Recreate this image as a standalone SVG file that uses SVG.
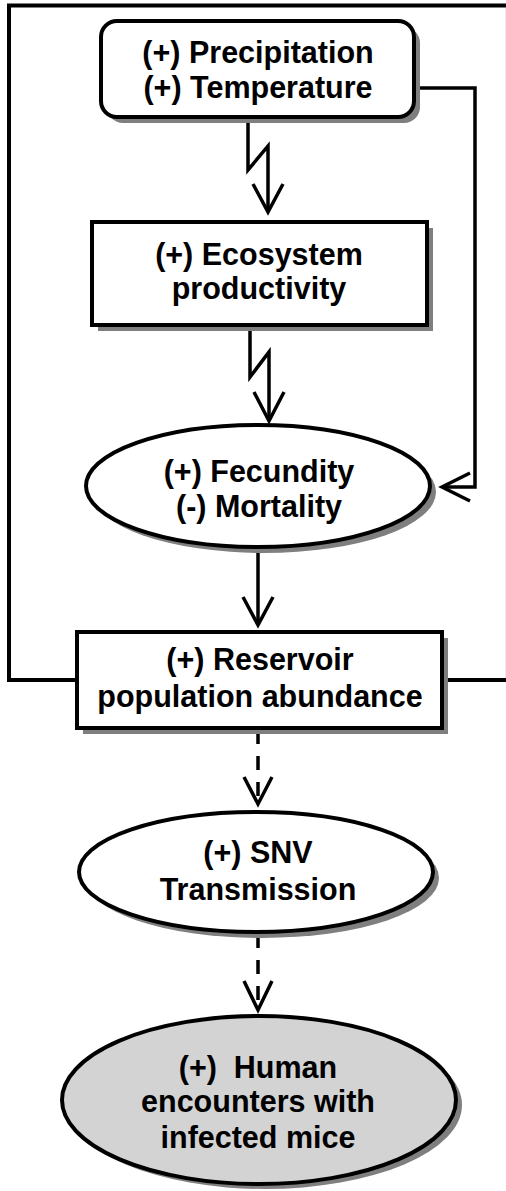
<svg xmlns="http://www.w3.org/2000/svg" width="506" height="1191" viewBox="0 0 506 1191">
<style>
.txt{font-family:"Liberation Sans",Arial,sans-serif;font-weight:bold;font-size:30.5px;fill:#000;text-anchor:middle}
.node{fill:#fff;stroke:#000;stroke-width:4}
.shadow{fill:#7f7f7f;stroke:none}
.ln{fill:none;stroke:#000;stroke-width:3.5;stroke-linejoin:miter}
.dash{stroke-dasharray:14 12}
</style>
<rect x="0" y="0" width="506" height="1191" fill="#fff"/>
<g id="frame">
<path d="M77,680 H9 V5.5 H506 M442,680 H506" fill="none" stroke="#000" stroke-width="4"/>
<line x1="505.5" y1="8" x2="505.5" y2="678" stroke="#ececec" stroke-width="1"/>
</g>
<g id="connectors">
<path class="ln" d="M248,119 V170 L268,146 V211"/>
<path class="ln" d="M253,184 L268,212 L283,184"/>
<path class="ln" d="M250,327 V377 L269,352 V420"/>
<path class="ln" d="M254,392 L269,421 L284,392"/>
<path class="ln" d="M397,88 H475 V487 H442"/>
<path class="ln" d="M470,473 L442,487 L470,501"/>
<path class="ln" d="M258,549 V624"/>
<path class="ln" d="M243,597 L258,625 L273,597"/>
<path class="ln dash" d="M258,730 V802"/>
<path class="ln" d="M244,777 L258,804 L272,777"/>
<path class="ln dash" d="M258,934 V1008"/>
<path class="ln" d="M244,981 L258,1010 L272,981"/>
</g>
<g id="climate">
<rect class="shadow" x="107" y="27" width="313" height="96" rx="16"/>
<rect class="node" x="101" y="21" width="313" height="96" rx="16"/>
<text class="txt" x="258" y="63">(+) Precipitation</text>
<text class="txt" x="258" y="98">(+) Temperature</text>
</g>
<g id="ecosystem">
<rect class="shadow" x="98" y="228" width="335" height="103"/>
<rect class="node" x="92" y="222" width="335" height="103"/>
<text class="txt" x="259" y="265">(+) Ecosystem</text>
<text class="txt" x="259" y="299">productivity</text>
</g>
<g id="fecundity">
<ellipse class="shadow" cx="264" cy="492" rx="172" ry="61"/>
<ellipse class="node" cx="258" cy="486" rx="172" ry="61"/>
<text class="txt" x="259" y="482">(+) Fecundity</text>
<text class="txt" x="259" y="517">(-) Mortality</text>
</g>
<g id="reservoir">
<rect class="shadow" x="83" y="638" width="365" height="96"/>
<rect class="node" x="77" y="632" width="365" height="96"/>
<text class="txt" x="260" y="670">(+) Reservoir</text>
<text class="txt" x="260" y="707">population abundance</text>
</g>
<g id="snv">
<ellipse class="shadow" cx="262" cy="878" rx="177" ry="60"/>
<ellipse class="node" cx="256" cy="872" rx="177" ry="60"/>
<text class="txt" x="258" y="863">(+) SNV</text>
<text class="txt" x="258" y="900">Transmission</text>
</g>
<g id="human">
<ellipse class="shadow" cx="265" cy="1105" rx="197" ry="84"/>
<ellipse class="node" cx="259" cy="1100" rx="197" ry="84" style="fill:#d3d3d3"/>
<text class="txt" x="258" y="1078" xml:space="preserve">(+)  Human</text>
<text class="txt" x="258" y="1112">encounters with</text>
<text class="txt" x="258" y="1148">infected mice</text>
</g>
</svg>
